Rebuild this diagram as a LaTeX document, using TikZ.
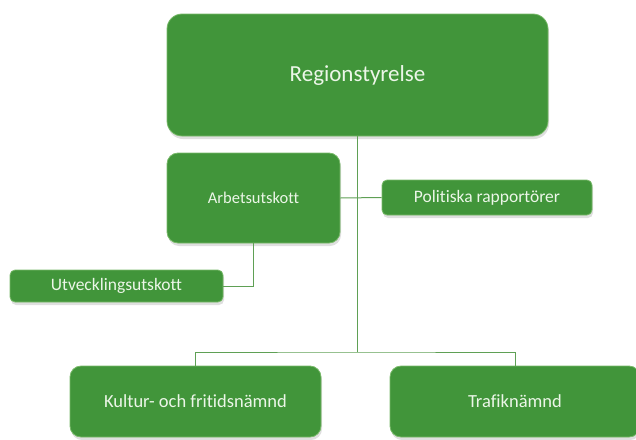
\documentclass[tikz,border=0pt]{standalone}
\usepackage{fontspec}
\setmainfont{Carlito}[Ligatures=NoCommon]
\usetikzlibrary{shadows}
\usetikzlibrary{positioning}
\usetikzlibrary{calc}

\definecolor{boxgreen}{RGB}{65,149,58}
\definecolor{edgegreen}{RGB}{120,185,105}
\definecolor{linegreen}{RGB}{95,160,85}
\definecolor{txtwhite}{RGB}{236,246,232}

\begin{document}
\begin{tikzpicture}[x=1pt, y=-1pt,
  orgbox/.style={draw=edgegreen, line width=0.8pt, fill=boxgreen, text=txtwhite,
                 inner sep=0pt, align=center,
                 drop shadow={shadow xshift=1pt, shadow yshift=-3pt, opacity=0.25}},
  link/.style={draw=linegreen, line width=1pt}]

 \useasboundingbox (0,0) rectangle (636,439);
 \clip (0,0) rectangle (636,439);

 %level 1
 \node[orgbox, rounded corners=15pt, minimum width=381pt, minimum height=122pt, font=\fontsize{23}{27}\selectfont]
   (rs) at (357.5,75) {Regionstyrelse};

 %level 2
 \node[orgbox, rounded corners=11pt, minimum width=173pt, minimum height=90pt, font=\fontsize{16.5}{20}\selectfont]
   (au) at (253.5,198) {Arbetsutskott};
 \node[orgbox, rounded corners=5pt, minimum width=210pt, minimum height=35pt, font=\fontsize{17.5}{21}\selectfont]
   (pr) at (487,197.5) {Politiska rapportörer};
 \node[orgbox, rounded corners=5pt, minimum width=213pt, minimum height=32pt, font=\fontsize{17.5}{21}\selectfont]
   (uu) at (116.5,286) {Utvecklingsutskott};

 %level 3
 \node[orgbox, rounded corners=11pt, minimum width=251pt, minimum height=71pt, font=\fontsize{18.5}{22}\selectfont]
   (kf) at (195.5,401.5) {Kultur- och fritidsnämnd};
 \node[orgbox, rounded corners=11pt, minimum width=250pt, minimum height=71pt, font=\fontsize{18.5}{22}\selectfont]
   (tn) at (515,401.5) {Trafiknämnd};

 % connectors
 \coordinate (hub) at (357.5,352);
 \draw[link] (rs.south) -- (hub);
 \draw[link] (kf.north) |- (hub) -| (tn.north);
 \draw[link] (au.east) -- (pr.west);
 \draw[link] (au.south) |- (uu.east);

\end{tikzpicture}
\end{document}
